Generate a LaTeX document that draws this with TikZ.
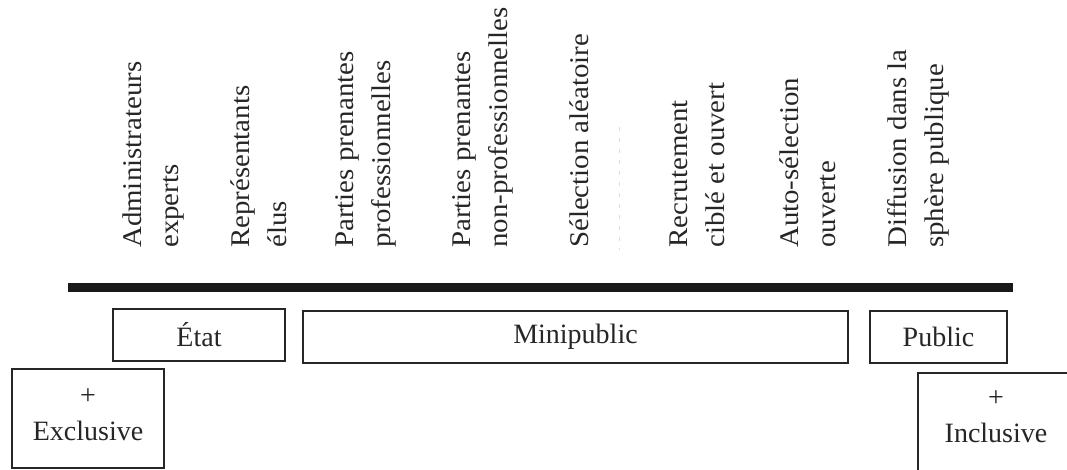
\documentclass[tikz,border=0pt]{standalone}
\usepackage{fontspec}
\setmainfont{Liberation Serif}
\newfontfamily\axisfamily[FakeStretch=1.07]{Liberation Serif}
\begin{document}
\begin{tikzpicture}[x=1pt,y=-1pt,
  axislbl/.style={rotate=90, anchor=north west, inner sep=0pt, align=left,
    font={\axisfamily\fontsize{27}{37}\selectfont}, text=black!85},
  catbox/.style={draw=black!85, line width=1.3pt, inner sep=0pt, align=center,
    font={\fontsize{28}{38}\selectfont}, text=black!85},
  endtext/.style={inner sep=0pt, align=center,
    font={\fontsize{28}{36}\selectfont}, text=black!85},
  frame/.style={draw=black!85, line width=1.3pt}]
\useasboundingbox (0,0) rectangle (1067,470);

% rotated category labels above the scale
\node[axislbl] (admin) at (123,248) {Administrateurs\\experts};
\node[axislbl] (elus)  at (231,248) {Représentants\\élus};
\node[axislbl] (ppro)  at (335,248) {Parties prenantes\\professionnelles};
\node[axislbl] (pnon)  at (452,248) {Parties prenantes\\non-professionnelles};
\node[axislbl] (alea)  at (570,248) {Sélection aléatoire};
\node[axislbl] (recr)  at (670,248) {Recrutement\\ciblé et ouvert};
\node[axislbl] (auto)  at (780,248) {Auto-sélection\\ouverte};
\node[axislbl] (diff)  at (887,248) {Diffusion dans la\\sphère publique};

% faint guide beside the random-selection label
\coordinate (gtop) at (619,127);
\coordinate (gbot) at (619,250);
\draw[cyan!25!gray!30, line width=0.6pt, dash pattern=on 4pt off 7pt] (gtop) -- (gbot);

% the scale bar
\fill[black!90] (68,283) rectangle (1013,292);

% groupings below the bar
\node[catbox, minimum width=172pt, minimum height=52pt] (etat) at (199,335) {État};
\node[catbox, minimum width=545pt, minimum height=52pt] (mini) at (575.5,337) {Minipublic};
\node[catbox, minimum width=137pt, minimum height=52pt] (pub)  at (938.5,337) {Public};

% the two ends of the scale
\node[endtext] (excl) at (88,414.5) {+\\Exclusive};
\draw[frame] (excl.center) ++(-76,-45.5) rectangle ++(152,99);
\node[endtext] (incl) at (996,417) {+\\Inclusive};
\draw[frame] (incl.center) ++(-78,-44) rectangle ++(170,130);
\end{tikzpicture}
\end{document}
